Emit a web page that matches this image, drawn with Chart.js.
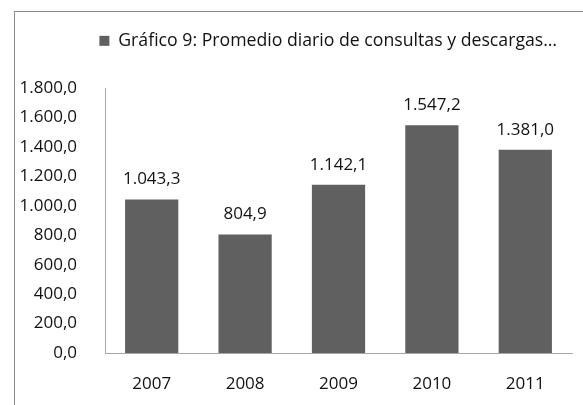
<!DOCTYPE html>
<html>
<head>
<meta charset="utf-8">
<script src="https://cdn.jsdelivr.net/npm/chart.js@4/dist/chart.umd.min.js"></script>
<style>
  html, body { margin: 0; padding: 0; background: #fff; }
  #wrap { position: relative; width: 583px; height: 405px; overflow: hidden; }
  #frame { position: absolute; left: 14px; top: 11px; width: 620px; height: 440px; border: 1px solid #8a8a8a; box-sizing: border-box; }
  canvas { position: absolute; left: 0; top: 0; }
</style>
</head>
<body>
<div id="wrap">
  <div id="frame"></div>
  <canvas id="c" width="583" height="405"></canvas>
</div>
<script>
const categories = ['2007', '2008', '2009', '2010', '2011'];
const seriesLabel = 'Gráfico 9: Promedio diario de consultas y descargas…';
const values = [1043.3, 804.9, 1142.1, 1547.2, 1381.0];
const yMin = 0, yMax = 1800, yStep = 200;

function fmt(v) {
  const s = Math.abs(v).toFixed(1);
  let [ip, dp] = s.split('.');
  ip = ip.replace(/\B(?=(\d{3})+(?!\d))/g, '.');
  return (v < 0 ? '-' : '') + ip + ',' + dp;
}

const FONT = { family: '"Open Sans", sans-serif', size: 17 };
const LEGEND_FONT = { family: '"Open Sans", sans-serif', size: 17.7 };

const legendHeightPlugin = {
  id: 'legendHeight',
  beforeUpdate(chart) {
    const lg = chart.legend;
    if (lg && !lg._patched) {
      const orig = lg.fit;
      lg.fit = function () { orig.call(this); this.height = 71; };
      lg._patched = true;
    }
  }
};

const valueLabels = {
  id: 'valueLabels',
  afterDatasetsDraw(chart) {
    const ctx = chart.ctx;
    const meta = chart.getDatasetMeta(0);
    ctx.save();
    ctx.font = `${FONT.size}px ${FONT.family}`;
    ctx.fillStyle = '#111111';
    ctx.textAlign = 'center';
    ctx.textBaseline = 'middle';
    meta.data.forEach((bar, i) => {
      ctx.fillText(fmt(values[i]), bar.x, bar.y - 20);
    });
    ctx.restore();
  }
};

new Chart(document.getElementById('c'), {
  type: 'bar',
  data: {
    labels: categories,
    datasets: [{
      label: seriesLabel,
      data: values,
      backgroundColor: '#606060',
      borderWidth: 0,
      barPercentage: 0.57,
      categoryPercentage: 1.0
    }]
  },
  options: {
    responsive: false,
    animation: false,
    devicePixelRatio: 1,
    layout: { padding: { left: 0, right: 11, top: 17, bottom: 0 } },
    plugins: {
      legend: {
        display: true,
        position: 'top',
        align: 'end',
        labels: {
          boxWidth: 10,
          boxHeight: 10,
          padding: 15,
          color: '#111111',
          font: LEGEND_FONT
        }
      },
      tooltip: { enabled: false }
    },
    scales: {
      x: {
        grid: { display: false },
        border: { display: true, color: '#a6a6a6', width: 1 },
        ticks: { color: '#111111', font: FONT, padding: 13, maxRotation: 0 },
        afterFit(scale) { scale.height = 52; }
      },
      y: {
        min: yMin,
        max: yMax,
        grid: { display: false },
        border: { display: true, color: '#a6a6a6', width: 1 },
        ticks: {
          stepSize: yStep,
          color: '#111111',
          font: FONT,
          padding: 20,
          callback: (v) => fmt(v)
        },
        afterFit(scale) { scale.width = 105; }
      }
    }
  },
  plugins: [legendHeightPlugin, valueLabels]
});
</script>
</body>
</html>
